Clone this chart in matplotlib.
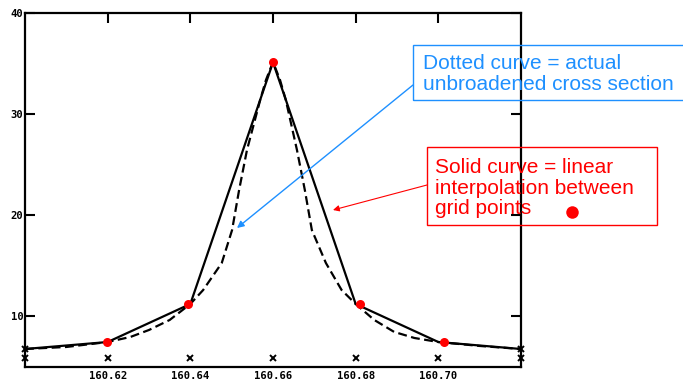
import matplotlib
matplotlib.use('Agg')
import matplotlib.pyplot as plt

# grid points (solid curve = linear interpolation)
grid_x = [160.60, 160.62, 160.64, 160.66, 160.68, 160.70, 160.72]
grid_y = [6.78, 7.47, 11.23, 35.12, 11.23, 7.47, 6.78]

# red dots as drawn
dot_x = [160.6198, 160.6395, 160.66, 160.681, 160.7013]
dot_y = [7.47, 11.23, 35.12, 11.23, 7.47]

# dashed curve (actual unbroadened cross section)
dash_x = [160.600, 160.610, 160.620, 160.6255, 160.630, 160.635, 160.640,
          160.6431, 160.6476, 160.6501, 160.6518, 160.6537, 160.6569, 160.6583,
          160.660, 160.6617, 160.6631, 160.6658, 160.6677, 160.6694,
          160.6728, 160.6766, 160.680, 160.6845, 160.6893, 160.6942,
          160.700, 160.710, 160.720]
dash_y = [6.78, 6.98, 7.47, 7.97, 8.66, 9.65, 11.23,
          12.61, 15.28, 18.54, 22.50, 26.45, 31.40, 33.38,
          35.16, 33.38, 31.40, 26.45, 22.50, 18.54,
          15.28, 12.61, 11.23, 9.65, 8.47, 7.87,
          7.47, 7.08, 6.78]

xticks = [160.62, 160.64, 160.66, 160.68, 160.70]
xtick_labels = ['160.62', '160.64', '160.66', '160.68', '160.70']
yticks = [10, 20, 30, 40]
mark_x = [160.60, 160.62, 160.64, 160.66, 160.68, 160.70, 160.72]

fig = plt.figure(figsize=(6.83, 3.83), dpi=100)
ax = fig.add_axes([25/683, 16/383, 496/683, 354/383])

ax.plot(grid_x, grid_y, color='black', lw=1.6, solid_joinstyle='miter')
ax.plot(dash_x, dash_y, color='black', lw=1.6, dashes=(4, 2))
ax.plot(dot_x, dot_y, 'o', color='red', ms=6.5, mec='none', zorder=5)
ax.plot(mark_x, [5.9]*len(mark_x), 'x', color='black', ms=4.2, mew=1.4, clip_on=False)
ax.plot([160.60, 160.72], [6.78, 6.78], 'x', color='black', ms=4.2, mew=1.4, clip_on=False)

ax.set_xlim(160.60, 160.72)
ax.set_ylim(5, 40)
ax.set_xticks(xticks)
ax.set_xticklabels(xtick_labels)
ax.set_yticks(yticks)
for s in ax.spines.values():
    s.set_linewidth(1.6)
tfont = dict(family='DejaVu Sans Mono', weight='bold', size=7.6)
ax.tick_params(axis='y', direction='in', length=7, width=1.5, pad=1,
               left=True, right=True)
ax.tick_params(axis='x', direction='in', length=7, width=1.5, pad=3,
               bottom=False, top=True)
for lab in ax.get_xticklabels() + ax.get_yticklabels():
    lab.set_fontproperties(tfont)

blue = '#1E90FF'
fig.text(423/683, 1 - 74/383, 'Dotted curve = actual\nunbroadened cross section',
         color=blue, fontsize=15, family='Liberation Sans', va='center', ha='left',
         linespacing=1.12)
fig.patches.append(plt.Rectangle((413/683, 1 - 100/383), 275/683, 55/383,
                                 transform=fig.transFigure, fill=False,
                                 ec=blue, lw=1.0))
ax.annotate('', xy=(237, 383 - 228), xycoords='figure pixels',
            xytext=(413, 383 - 85), textcoords='figure pixels',
            arrowprops=dict(arrowstyle='-|>', color=blue, lw=1.0,
                            shrinkA=0, shrinkB=0, mutation_scale=10))

red = '#FF0000'
fig.text(435/683, 1 - 188/383, 'Solid curve = linear\ninterpolation between\ngrid points',
         color=red, fontsize=15, family='Liberation Sans', va='center', ha='left',
         linespacing=1.12)
fig.patches.append(plt.Rectangle((427/683, 1 - 225/383), 230/683, 78/383,
                                 transform=fig.transFigure, fill=False,
                                 ec=red, lw=1.0))
fig.lines.append(plt.Line2D([572/683], [1 - 212/383], marker='o', color=red,
                            ms=9, mec='none', transform=fig.transFigure))
ax.annotate('', xy=(333, 383 - 210), xycoords='figure pixels',
            xytext=(427, 383 - 185), textcoords='figure pixels',
            arrowprops=dict(arrowstyle='-|>', color=red, lw=0.8,
                            shrinkA=0, shrinkB=0, mutation_scale=9))

fig.savefig('out.png', dpi=100)
